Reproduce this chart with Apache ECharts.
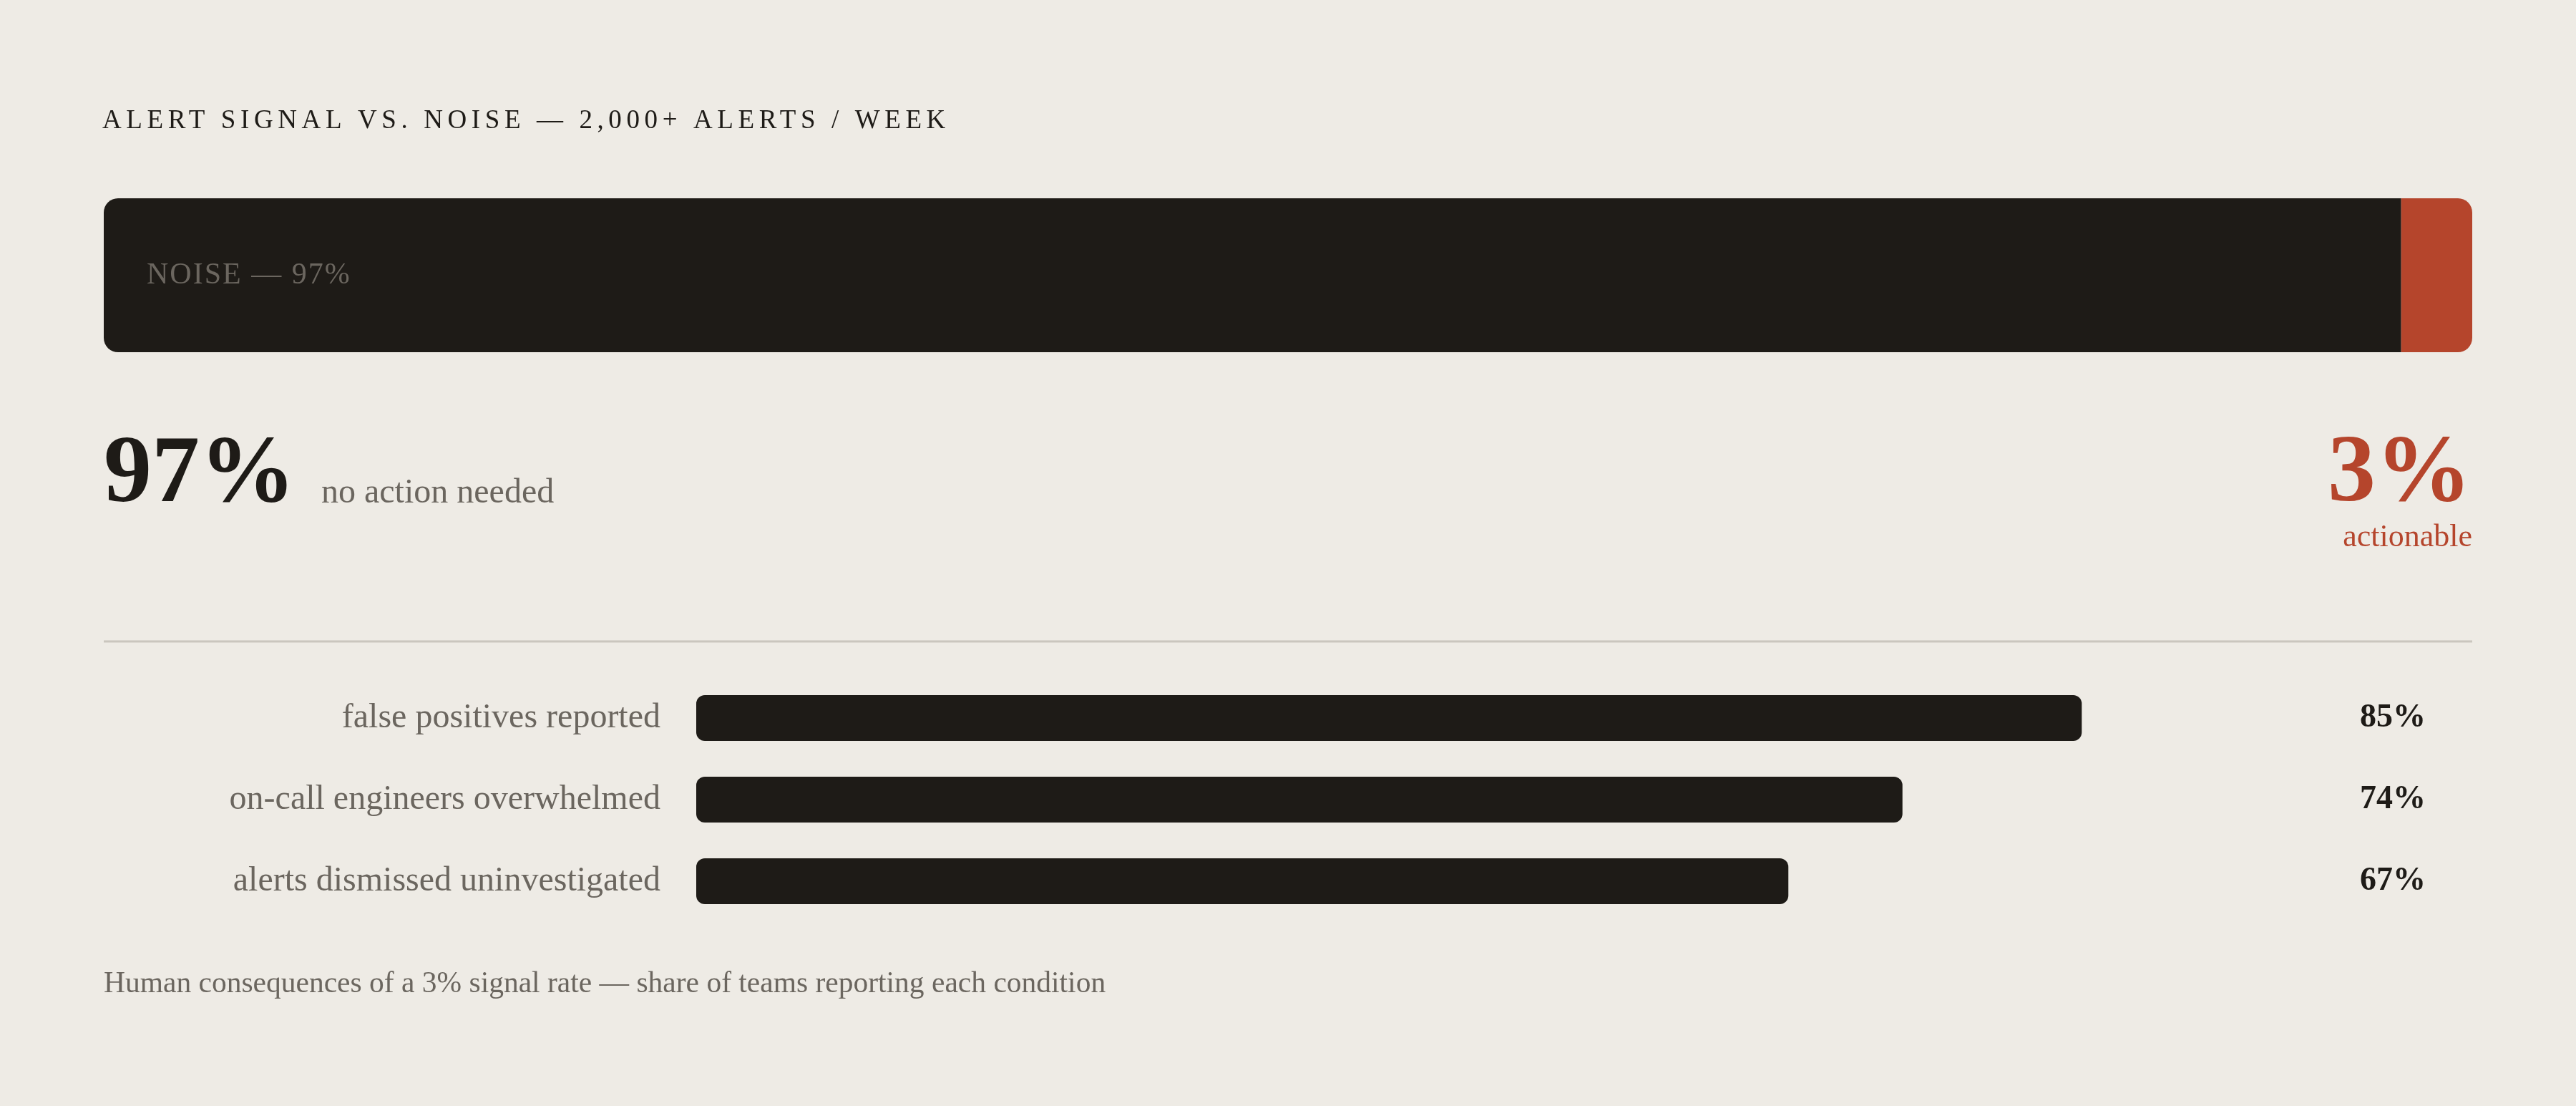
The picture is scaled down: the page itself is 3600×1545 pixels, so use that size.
<!DOCTYPE html>
<html>
<head>
<meta charset="utf-8">
<script src="https://cdn.jsdelivr.net/npm/echarts@6/dist/echarts.min.js"></script>
<style>
html,body{margin:0;padding:0;background:#eeebe5;}
#chart{width:3600px;height:1545px;}
</style>
</head>
<body>
<div id="chart"></div>
<script>
// ---- data ----
const titleText = 'ALERT SIGNAL VS. NOISE — 2,000+ ALERTS / WEEK';
const splitNames = ['noise', 'signal'];
const splitValues = [97, 3];
const noiseCaption = 'no action needed';
const signalCaption = 'actionable';
const conditionLabels = ['false positives reported', 'on-call engineers overwhelmed', 'alerts dismissed uninvestigated'];
const conditionValues = [85, 74, 67];
const footnote = 'Human consequences of a 3% signal rate — share of teams reporting each condition';

const SERIF = '"Liberation Serif", "DejaVu Serif", serif';
const DARK = '#1e1b17';
const RED = '#b5452c';
const GREY = '#6b665f';

const noiseLabel = splitNames[0].toUpperCase() + ' — ' + splitValues[0] + '%';

// tracked (letter-spaced) caps text, as in the reference typography
const tracking = {};
tracking[titleText] = '6.6px';
tracking[noiseLabel] = '2px';
(function () {
  const proto = CanvasRenderingContext2D.prototype;
  const orig = proto.fillText;
  proto.fillText = function (t, x, y, w) {
    const ls = tracking[t];
    const call = () => (w === undefined ? orig.call(this, t, x, y) : orig.call(this, t, x, y, w));
    if (ls && 'letterSpacing' in this) {
      const f = this.font;
      this.letterSpacing = ls;
      this.font = f;
      const r = call();
      this.letterSpacing = '0px';
      this.font = f;
      return r;
    }
    if ('letterSpacing' in this && this.letterSpacing !== '0px') {
      const f = this.font;
      this.letterSpacing = '0px';
      this.font = f;
    }
    return call();
  };
})();

const chart = echarts.init(document.getElementById('chart'));
chart.setOption({
  backgroundColor: '#eeebe5',
  animation: false,
  textStyle: { fontFamily: SERIF },
  grid: [
    { left: 145, top: 277, width: 3310, height: 215 },
    { left: 973, top: 946, width: 2278, height: 342 }
  ],
  xAxis: [
    { gridIndex: 0, type: 'value', min: 0, max: 100, show: false },
    { gridIndex: 1, type: 'value', min: 0, max: 100, show: false }
  ],
  yAxis: [
    { gridIndex: 0, type: 'category', data: ['split'], show: false },
    {
      gridIndex: 1, type: 'category', data: conditionLabels, inverse: true,
      axisLine: { show: false }, axisTick: { show: false },
      axisLabel: { fontFamily: SERIF, fontSize: 48, color: GREY, margin: 50, padding: [16, 0, 0, 0] }
    },
    {
      gridIndex: 1, type: 'category', position: 'right', inverse: true,
      data: conditionValues.map(v => v + '%'),
      axisLine: { show: false }, axisTick: { show: false },
      axisLabel: { fontFamily: SERIF, fontSize: 46, fontWeight: 'bold', color: DARK, margin: 139, align: 'right', padding: [18, 0, 0, 0] }
    }
  ],
  series: [
    {
      name: splitNames[0], type: 'bar', stack: 'split', xAxisIndex: 0, yAxisIndex: 0,
      data: [splitValues[0]], barWidth: 215,
      itemStyle: { color: DARK, borderRadius: [20, 0, 0, 20] },
      label: {
        show: true, position: 'insideLeft', offset: [55, 0],
        formatter: () => noiseLabel,
        fontFamily: SERIF, fontSize: 42, color: GREY
      }
    },
    {
      name: splitNames[1], type: 'bar', stack: 'split', xAxisIndex: 0, yAxisIndex: 0,
      data: [splitValues[1]], barWidth: 215,
      itemStyle: { color: RED, borderRadius: [0, 20, 20, 0] }
    },
    {
      name: 'conditions', type: 'bar', xAxisIndex: 1, yAxisIndex: 1,
      data: conditionValues, barWidth: 64,
      itemStyle: { color: DARK, borderRadius: 12 }
    }
  ],
  graphic: [
    { type: 'text', x: 143, y: 169, style: { text: titleText, font: '37px ' + SERIF, fill: DARK, verticalAlign: 'middle' } },
    { type: 'text', x: 145, y: 665, style: { text: splitValues[0] + '%', font: 'bold 134px ' + SERIF, fill: DARK, verticalAlign: 'middle' } },
    { type: 'text', x: 449, y: 689, style: { text: noiseCaption, font: '48px ' + SERIF, fill: GREY, verticalAlign: 'middle' } },
    { type: 'text', x: 3454, y: 664, style: { text: splitValues[1] + '%', font: 'bold 134px ' + SERIF, fill: RED, align: 'right', verticalAlign: 'middle' } },
    { type: 'text', x: 3455, y: 751, style: { text: signalCaption, font: '44px ' + SERIF, fill: RED, align: 'right', verticalAlign: 'middle' } },
    { type: 'line', shape: { x1: 145, y1: 896, x2: 3455, y2: 896 }, style: { stroke: '#cac6be', lineWidth: 3 } },
    { type: 'text', x: 145, y: 1375, style: { text: footnote, font: '41.5px ' + SERIF, fill: GREY, verticalAlign: 'middle' } }
  ]
});
</script>
</body>
</html>
